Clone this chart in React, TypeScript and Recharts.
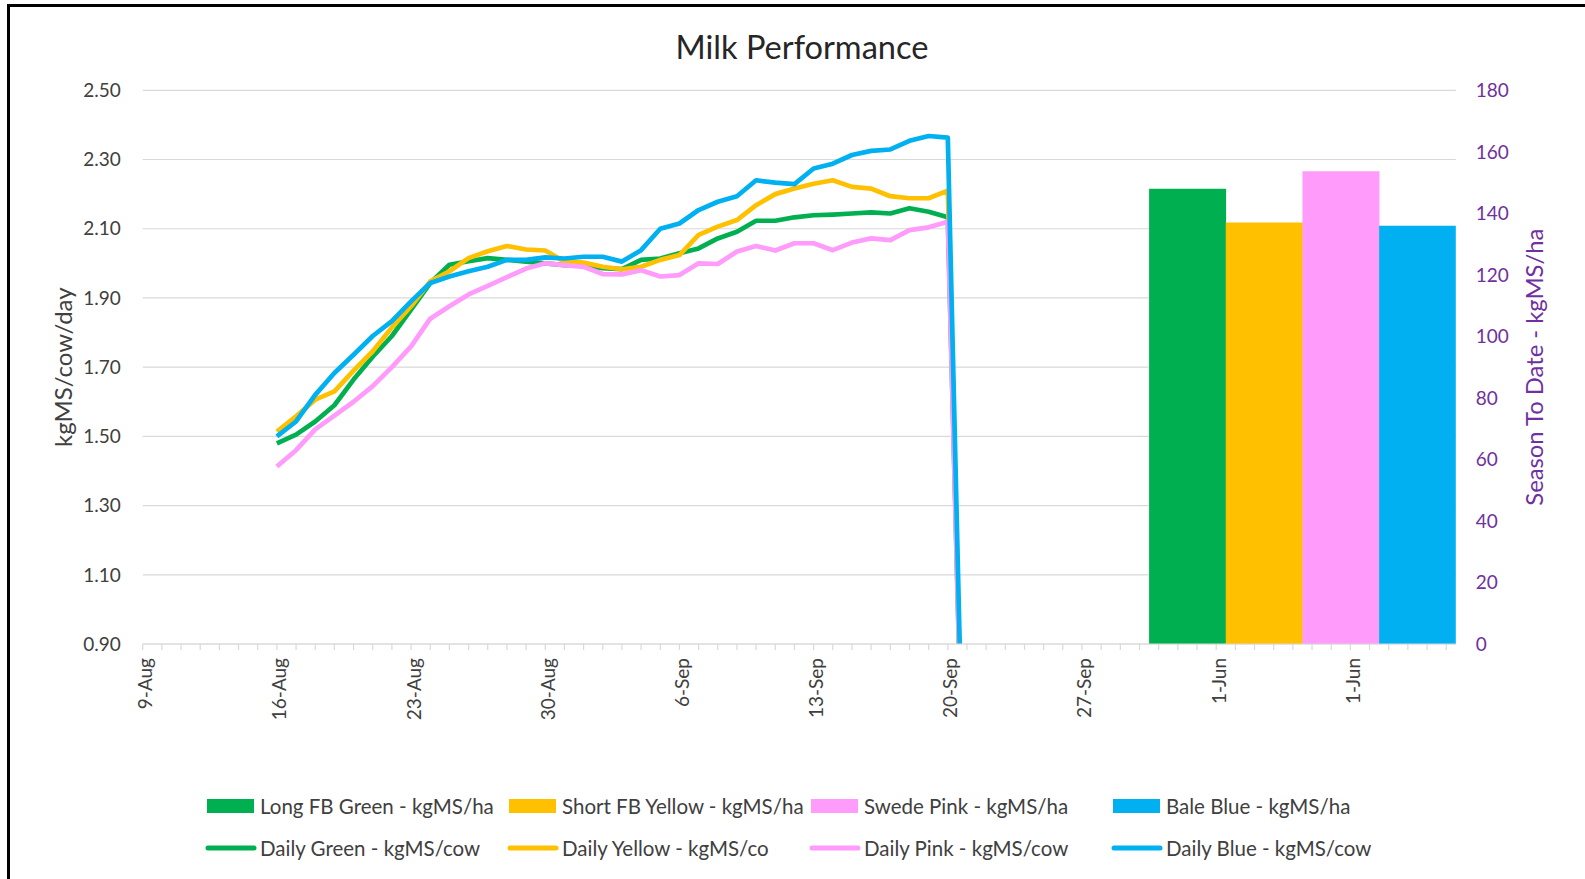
import React from 'react';
import { ComposedChart, Line, Bar, Cell, XAxis, YAxis, CartesianGrid, Legend } from 'recharts';

// ---------- DATA ----------
const categories: string[] = [
  '9-Aug', '10-Aug', '11-Aug', '12-Aug', '13-Aug', '14-Aug', '15-Aug', '16-Aug', '17-Aug', '18-Aug',
  '19-Aug', '20-Aug', '21-Aug', '22-Aug', '23-Aug', '24-Aug', '25-Aug', '26-Aug', '27-Aug', '28-Aug',
  '29-Aug', '30-Aug', '31-Aug',
  '1-Sep', '2-Sep', '3-Sep', '4-Sep', '5-Sep', '6-Sep', '7-Sep', '8-Sep', '9-Sep', '10-Sep',
  '11-Sep', '12-Sep', '13-Sep', '14-Sep', '15-Sep', '16-Sep', '17-Sep', '18-Sep', '19-Sep', '20-Sep',
  '21-Sep', '22-Sep', '23-Sep', '24-Sep', '25-Sep', '26-Sep', '27-Sep', '28-Sep', '29-Sep', '30-Sep',
  '1-Jun', '1-Jun', '1-Jun', '1-Jun', '1-Jun', '1-Jun', '1-Jun', '1-Jun',
  '1-Jun', '1-Jun', '1-Jun', '1-Jun', '1-Jun', '1-Jun', '1-Jun', '1-Jun',
];

// daily series start at category "16-Aug"
const firstLineCategory = 7;

const dailyGreen = [1.48, 1.505, 1.543, 1.59, 1.664, 1.73, 1.79, 1.866, 1.943, 1.996, 2.006, 2.015, 2.01, 2.005, 2.0, 1.995, 1.995, 1.986, 1.983, 2.01, 2.014, 2.029, 2.043, 2.072, 2.091, 2.123, 2.123, 2.133, 2.139, 2.141, 2.144, 2.147, 2.144, 2.159, 2.149, 2.133, 0];
const dailyYellow = [1.514, 1.558, 1.606, 1.63, 1.69, 1.746, 1.815, 1.876, 1.948, 1.977, 2.015, 2.035, 2.05, 2.04, 2.037, 2.005, 2.002, 1.99, 1.983, 1.99, 2.01, 2.024, 2.082, 2.106, 2.125, 2.168, 2.2, 2.216, 2.23, 2.24, 2.221, 2.216, 2.194, 2.188, 2.188, 2.21, 0];
const dailyPink = [1.413, 1.46, 1.52, 1.56, 1.6, 1.645, 1.7, 1.76, 1.84, 1.876, 1.91, 1.935, 1.96, 1.985, 2.0, 1.995, 1.99, 1.969, 1.968, 1.98, 1.962, 1.966, 2.0, 1.998, 2.034, 2.05, 2.037, 2.058, 2.058, 2.038, 2.06, 2.072, 2.067, 2.096, 2.104, 2.12, 0];
const dailyBlue = [1.5, 1.543, 1.62, 1.683, 1.736, 1.79, 1.833, 1.89, 1.943, 1.962, 1.977, 1.99, 2.01, 2.01, 2.017, 2.014, 2.019, 2.019, 2.005, 2.038, 2.1, 2.115, 2.154, 2.178, 2.194, 2.24, 2.233, 2.229, 2.274, 2.288, 2.313, 2.325, 2.329, 2.354, 2.368, 2.363, 0];

const barNames = ['Long FB Green - kgMS/ha', 'Short FB Yellow - kgMS/ha', 'Swede Pink - kgMS/ha', 'Bale Blue - kgMS/ha'];
const barValues = [148, 137, 153.7, 136];
// category-axis slot (centre) of each season-to-date column
const barSlots = [54.5, 58.5, 62.5, 66.5];

const lineNames = ['Daily Green - kgMS/cow', 'Daily Yellow - kgMS/co', 'Daily Pink - kgMS/cow', 'Daily Blue - kgMS/cow'];
const lineKeys = ['green', 'yellow', 'pink', 'blue'];

const leftTicks = [0.9, 1.1, 1.3, 1.5, 1.7, 1.9, 2.1, 2.3, 2.5];
const rightTicks = [0, 20, 40, 60, 80, 100, 120, 140, 160, 180];

// ---------- STYLE ----------
const COLORS = ['#00B050', '#FFC000', '#FF9BFA', '#00B0F0'];
const FONT = 'Lato, "Open Sans", sans-serif';
const TEXT = '#404040';
const PURPLE = '#7030A0';
const GRID = '#D9D9D9';

const lineData = dailyGreen.map((v, k) => ({
  x: firstLineCategory + k,
  green: v,
  yellow: dailyYellow[k],
  pink: dailyPink[k],
  blue: dailyBlue[k],
}));

const barData = barValues.map((v, i) => ({ bx: barSlots[i], v, name: barNames[i] }));

const xTicks = categories.map((_, i) => i);

const XTick = (props: any) => {
  const { x, y, payload } = props;
  const i = payload.value;
  if (i % 7 !== 0) return null;
  const lx = x + 2;
  return (
    <text
      x={lx}
      y={y}
      transform={`rotate(-90 ${lx} ${y})`}
      textAnchor="end"
      dominantBaseline="central"
      fontFamily={FONT}
      fontSize={19}
      fill={TEXT}
    >
      {categories[i]}
    </text>
  );
};

const LegendContent = () => (
  <div style={{ fontFamily: FONT, fontSize: 20.5, color: TEXT }}>
    <div style={{ display: 'flex', height: 42.4, alignItems: 'center' }}>
      {barNames.map((n, i) => (
        <div key={n} style={{ width: 302, flex: '0 0 302px', display: 'flex', alignItems: 'center' }}>
          <span style={{ display: 'inline-block', width: 47, height: 14, background: COLORS[i], marginLeft: 2, marginRight: 6 }} />
          <span style={{ whiteSpace: 'nowrap' }}>{n}</span>
        </div>
      ))}
    </div>
    <div style={{ display: 'flex', height: 42.4, alignItems: 'center' }}>
      {lineNames.map((n, i) => (
        <div key={n} style={{ width: 302, flex: '0 0 302px', display: 'flex', alignItems: 'center' }}>
          <svg width={52} height={8} style={{ marginRight: 3 }}>
            <line x1={3} y1={4} x2={49} y2={4} stroke={COLORS[i]} strokeWidth={5} strokeLinecap="round" />
          </svg>
          <span style={{ whiteSpace: 'nowrap' }}>{n}</span>
        </div>
      ))}
    </div>
  </div>
);

const LeftTitle = (props: any) => {
  const vb = props.viewBox || {};
  const cy = vb.y + vb.height / 2;
  return (
    <text x={63} y={cy} transform={`rotate(-90 63 ${cy})`} textAnchor="middle" dominantBaseline="central"
      fontFamily={FONT} fontSize={24} fill={TEXT}>
      kgMS/cow/day
    </text>
  );
};

const RightTitle = (props: any) => {
  const vb = props.viewBox || {};
  const cy = vb.y + vb.height / 2;
  return (
    <text x={1534} y={cy} transform={`rotate(-90 1534 ${cy})`} textAnchor="middle" dominantBaseline="central"
      fontFamily={FONT} fontSize={23.8} fill={PURPLE}>
      Season To Date - kgMS/ha
    </text>
  );
};

export default function App() {
  return (
    <div style={{ position: 'fixed', left: 0, top: 0, width: 1585, height: 879, overflow: 'hidden', background: '#fff' }}>
      <div style={{ position: 'absolute', left: 7, top: 4, width: 2000, height: 2000, borderLeft: '3px solid #000', borderTop: '3px solid #000' }} />
      <div style={{ position: 'absolute', left: 302, width: 1000, top: 27, lineHeight: '40px', textAlign: 'center', fontFamily: FONT, fontSize: 32.6, color: '#262626' }}>
        Milk Performance
      </div>
      <div style={{ position: 'absolute', left: 0, top: 0 }}>
        <ComposedChart
          width={1585}
          height={879}
          data={barData}
          margin={{ top: 90.3, right: 0, bottom: 135, left: 0 }}
          barCategoryGap={0}
          barGap={0}
        >
          <CartesianGrid xAxisId="main" yAxisId="left" vertical={false} stroke={GRID} strokeWidth={1.2} />
          <XAxis
            xAxisId="main"
            type="number"
            dataKey="x"
            domain={[0, 68.5]}
            ticks={xTicks}
            interval={0}
            height={100}
            tick={<XTick />}
            tickSize={6}
            tickMargin={8}
            axisLine={{ stroke: GRID, strokeWidth: 1.2 }}
            tickLine={{ stroke: GRID, strokeWidth: 1.2 }}
            allowDataOverflow
          />
          <XAxis xAxisId="bars" type="number" dataKey="bx" domain={[0, 68.5]} height={0} hide allowDataOverflow />
          <YAxis
            yAxisId="left"
            domain={[0.9, 2.5]}
            ticks={leftTicks}
            allowDataOverflow
            width={142.7}
            axisLine={false}
            tickLine={false}
            tickSize={0}
            tickMargin={22}
            tickFormatter={(v: number) => v.toFixed(2)}
            tick={{ fontFamily: FONT, fontSize: 19, fill: TEXT }}
            label={<LeftTitle />}
          />
          <YAxis
            yAxisId="right"
            orientation="right"
            domain={[0, 180]}
            ticks={rightTicks}
            width={129.2}
            axisLine={false}
            tickLine={false}
            tickSize={0}
            tickMargin={20}
            tick={{ fontFamily: FONT, fontSize: 19, fill: PURPLE }}
            label={<RightTitle />}
          />
          <Bar xAxisId="bars" yAxisId="right" dataKey="v" isAnimationActive={false}>
            {barData.map((d, i) => (
              <Cell key={d.name} fill={COLORS[i]} />
            ))}
          </Bar>
          {lineKeys.map((k, i) => (
            <Line
              key={k}
              xAxisId="main"
              yAxisId="left"
              data={lineData}
              dataKey={k}
              name={lineNames[i]}
              type="linear"
              stroke={COLORS[i]}
              strokeWidth={4.7}
              strokeLinejoin="round"
              dot={false}
              activeDot={false}
              isAnimationActive={false}
            />
          ))}
          <Legend
            layout="horizontal"
            verticalAlign="middle"
            align="center"
            content={<LegendContent />}
            wrapperStyle={{ left: 205, top: 784.4, width: 1300, height: 85 }}
          />
        </ComposedChart>
      </div>
    </div>
  );
}
